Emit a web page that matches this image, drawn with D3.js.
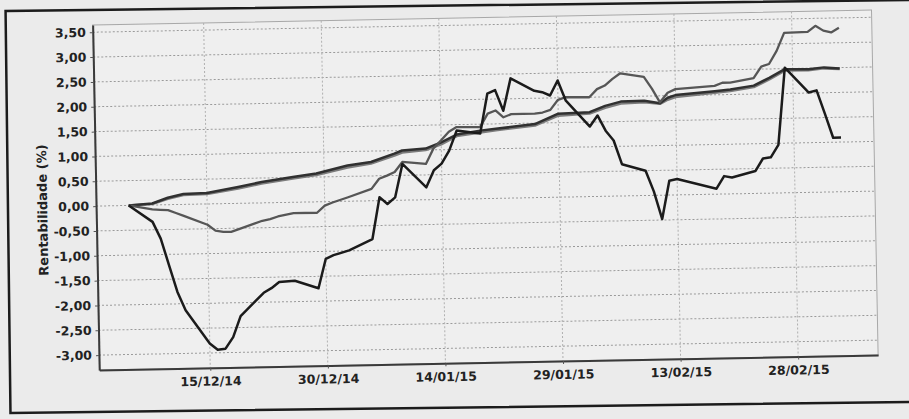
<!DOCTYPE html>
<html>
<head>
<meta charset="utf-8">
<script src="https://cdn.jsdelivr.net/npm/d3@7"></script>
<style>
    body { margin: 0; background: #ebebeb; }
    svg { display: block; font-family: "DejaVu Sans", sans-serif; }
</style>
</head>
<body>
<svg id="drawing_region"></svg>
<script>
// business days shown on the chart
const days = ["05/12/14","08/12/14","09/12/14","10/12/14","11/12/14","12/12/14","15/12/14","16/12/14","17/12/14","18/12/14",
    "19/12/14","22/12/14","23/12/14","24/12/14","26/12/14","29/12/14","30/12/14","31/12/14","02/01/15","05/01/15",
    "06/01/15","07/01/15","08/01/15","09/01/15","12/01/15","13/01/15","14/01/15","15/01/15","16/01/15","19/01/15",
    "20/01/15","21/01/15","22/01/15","23/01/15","26/01/15","27/01/15","28/01/15","29/01/15","30/01/15","02/02/15",
    "03/02/15","04/02/15","05/02/15","06/02/15","09/02/15","10/02/15","11/02/15","12/02/15","13/02/15","18/02/15",
    "19/02/15","20/02/15","23/02/15","24/02/15","25/02/15","26/02/15","27/02/15","02/03/15","03/03/15","04/03/15",
    "05/03/15","06/03/15"];

const blackValues = [0, -0.34, -0.68, -1.22, -1.76, -2.13, -2.81, -2.94, -2.92, -2.69,
    -2.27, -1.81, -1.72, -1.60, -1.58, -1.74, -1.15, -1.08, -0.99, -0.77,
    0.07, -0.07, 0.06, 0.73, 0.25, 0.59, 0.72, 0.98, 1.38, 1.31,
    2.11, 2.18, 1.76, 2.41, 2.15, 2.12, 2.05, 2.35, 1.94, 1.41,
    1.63, 1.32, 1.12, 0.64, 0.50, 0.08, -0.48, 0.29, 0.32, 0.11,
    0.36, 0.33, 0.45, 0.70, 0.72, 0.97, 2.52, 2.01, 2.05, 1.58,
    1.09, 1.09];

const grayValues = [0, -0.09, -0.10, -0.11, -0.17, -0.23, -0.42, -0.54, -0.57, -0.57,
    -0.52, -0.36, -0.33, -0.28, -0.22, -0.22, -0.08, -0.02, 0.08, 0.24,
    0.44, 0.50, 0.57, 0.77, 0.72, 1.03, 1.19, 1.36, 1.45, 1.44,
    1.71, 1.77, 1.63, 1.69, 1.69, 1.71, 1.76, 1.96, 2.01, 2.00,
    2.16, 2.23, 2.36, 2.47, 2.39, 2.15, 1.87, 2.06, 2.13, 2.18,
    2.24, 2.24, 2.32, 2.55, 2.60, 2.86, 3.22, 3.23, 3.35, 3.25,
    3.21, 3.30];

// the two smooth, almost overlapping series
const smoothDates = ["05/12/14","08/12/14","10/12/14","12/12/14","15/12/14","19/12/14","22/12/14","26/12/14","29/12/14","02/01/15",
    "05/01/15","08/01/15","09/01/15","12/01/15","14/01/15","16/01/15","19/01/15","21/01/15","26/01/15","29/01/15",
    "02/02/15","04/02/15","06/02/15","09/02/15","11/02/15","12/02/15","13/02/15","18/02/15","20/02/15","23/02/15",
    "25/02/15","27/02/15","02/03/15","04/03/15","06/03/15"];
const smoothDarkValues = [0, 0.03, 0.14, 0.21, 0.22, 0.33, 0.42, 0.51, 0.57, 0.72,
    0.78, 0.94, 1.00, 1.03, 1.15, 1.30, 1.37, 1.40, 1.48, 1.68,
    1.70, 1.82, 1.90, 1.91, 1.85, 1.96, 2.01, 2.07, 2.10, 2.17,
    2.32, 2.49, 2.48, 2.51, 2.48];
const smoothLightValues = [0, 0.02, 0.12, 0.19, 0.20, 0.30, 0.39, 0.48, 0.54, 0.68,
    0.75, 0.90, 0.96, 1.00, 1.11, 1.27, 1.33, 1.37, 1.45, 1.64,
    1.67, 1.78, 1.86, 1.88, 1.84, 1.92, 1.97, 2.04, 2.07, 2.14,
    2.29, 2.46, 2.46, 2.49, 2.47];

const xTickLabels = ["15/12/14","30/12/14","14/01/15","29/01/15","13/02/15","28/02/15"];
const yTickValues = [-3.0, -2.5, -2.0, -1.5, -1.0, -0.5, 0.0, 0.5, 1.0, 1.5, 2.0, 2.5, 3.0, 3.5];
const yLabel = "Rentabilidade (%)";

const parse = d3.timeParse("%d/%m/%y");

var config = {
    parent: '#drawing_region',
    width: 909,
    height: 419,
    margin: {top:25, right:34, bottom:49, left:96},
    xDomain: [new Date(2014, 10, 30, 20, 10), new Date(2015, 2, 10, 4, 50)],
    yDomain: [-3.30, 3.645],
    tilt: -1.1
};

const series = [
    {dates: smoothDates, values: smoothLightValues, color: '#7c7c7c', width: 2.5},
    {dates: smoothDates, values: smoothDarkValues, color: '#303030', width: 2.5},
    {dates: days, values: grayValues, color: '#565656', width: 2.3},
    {dates: days, values: blackValues, color: '#1b1b1b', width: 2.5}
];

class LineChart {

    constructor( config, series ) {
        this.config = config;
        this.series = series.map( s => ({
            color: s.color,
            width: s.width,
            points: s.dates.map( (d, i) => ({date: parse(d), value: s.values[i]}) )
        }));
        this.init();
    }

    init() {
        let self = this;

        self.svg = d3.select( self.config.parent )
            .attr('width', self.config.width)
            .attr('height', self.config.height);

        self.inner_width = self.config.width - self.config.margin.left - self.config.margin.right;
        self.inner_height = self.config.height - self.config.margin.top - self.config.margin.bottom;

        // outer frame of the scanned page
        self.svg.append('rect')
            .attr('x', 8).attr('y', 11)
            .attr('width', 980).attr('height', 402)
            .attr('fill', 'none')
            .attr('stroke', '#1c1c1c')
            .attr('stroke-width', 2.5)
            .attr('transform', 'rotate(-0.7, 8, 210)');

        // the scan is slightly tilted
        self.chart = self.svg.append('g')
            .attr('transform', `translate(${self.config.margin.left}, ${self.config.margin.top}) rotate(${self.config.tilt}, 0, 175)`);

        self.xscale = d3.scaleTime()
            .domain( self.config.xDomain )
            .range( [0, self.inner_width] );

        self.yscale = d3.scaleLinear()
            .domain( self.config.yDomain )
            .range( [self.inner_height, 0] );

        self.line = d3.line()
            .x( d => self.xscale(d.date) )
            .y( d => self.yscale(d.value) );
    }

    render() {
        let self = this;
        const xTicks = xTickLabels.map( parse );

        self.chart.append('rect')
            .attr('width', self.inner_width)
            .attr('height', self.inner_height)
            .attr('fill', '#efefef')
            .attr('stroke', '#a8a8a8')
            .attr('stroke-width', 1);

        // grid
        self.chart.append('g').selectAll('line')
            .data( yTickValues )
            .join('line')
            .attr('x1', 0).attr('x2', self.inner_width)
            .attr('y1', d => self.yscale(d)).attr('y2', d => self.yscale(d))
            .attr('stroke', '#9a9a9a')
            .attr('stroke-dasharray', '2,2');

        self.chart.append('g').selectAll('line')
            .data( xTicks )
            .join('line')
            .attr('x1', d => self.xscale(d)).attr('x2', d => self.xscale(d))
            .attr('y1', 0).attr('y2', self.inner_height)
            .attr('stroke', '#b0b0b0')
            .attr('stroke-dasharray', '2,2');

        // series
        self.chart.append('g').selectAll('path')
            .data( self.series )
            .join('path')
            .attr('d', d => self.line(d.points))
            .attr('fill', 'none')
            .attr('stroke', d => d.color)
            .attr('stroke-width', d => d.width)
            .attr('stroke-linejoin', 'round');

        // axes
        const xaxis = d3.axisBottom( self.xscale )
            .tickValues( xTicks )
            .tickFormat( d3.timeFormat('%d/%m/%y') )
            .tickSize(3).tickSizeOuter(0).tickPadding(6);

        const yaxis = d3.axisLeft( self.yscale )
            .tickValues( yTickValues )
            .tickFormat( d => d.toFixed(2).replace('.', ',') )
            .tickSize(3).tickSizeOuter(0).tickPadding(4);

        const xg = self.chart.append('g')
            .attr('transform', `translate(0, ${self.inner_height})`)
            .call( xaxis );
        const yg = self.chart.append('g')
            .call( yaxis );

        [xg, yg].forEach( g => {
            g.select('.domain').attr('stroke', '#3a3a3a').attr('stroke-width', 2);
            g.selectAll('.tick line').attr('stroke', '#555');
            g.selectAll('.tick text')
                .attr('fill', '#222')
                .attr('font-size', '12.5px')
                .attr('font-weight', 'bold')
                .attr('font-family', '"DejaVu Sans", sans-serif');
        });

        self.chart.append('text')
            .attr('transform', `translate(-49, ${self.yscale(0) + 3}) rotate(-90)`)
            .attr('text-anchor', 'middle')
            .attr('font-size', '13px')
            .attr('font-weight', 'bold')
            .attr('fill', '#222')
            .text( yLabel );
    }
}

const line_chart = new LineChart( config, series );
line_chart.render();
</script>
</body>
</html>
